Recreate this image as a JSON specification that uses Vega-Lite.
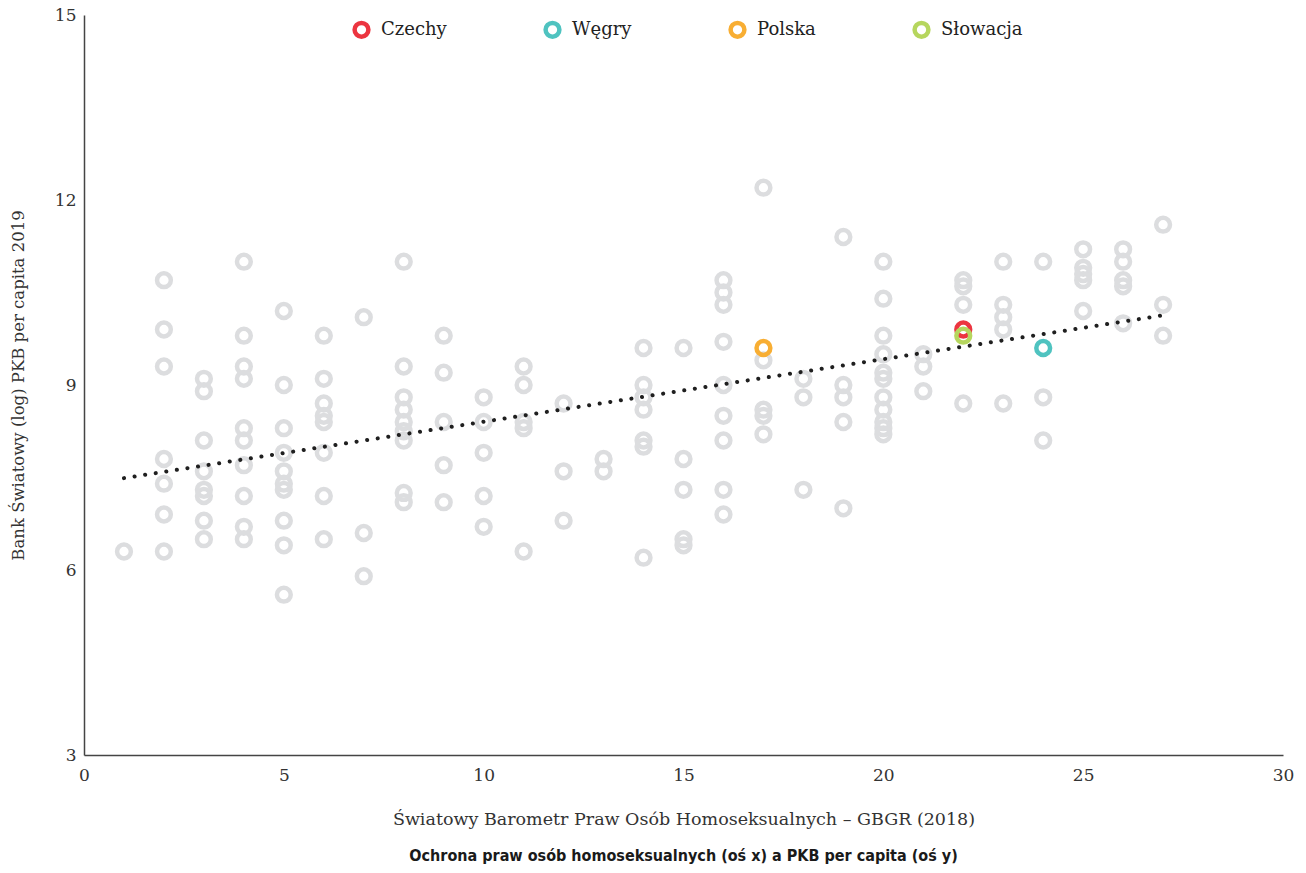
{
  "$schema": "https://vega.github.io/schema/vega-lite/v6.json",
  "autosize": {"type": "none"},
  "width": 1199,
  "height": 740,
  "padding": {"left": 84, "top": 15, "right": 23, "bottom": 118},
  "background": "white",
  "config": {
    "view": {"stroke": null},
    "font": "DejaVu Serif"
  },
  "title": {
    "text": "Ochrona praw osób homoseksualnych (oś x) a PKB per capita (oś y)",
    "orient": "bottom",
    "anchor": "middle",
    "font": "'DejaVu Sans Condensed', 'Liberation Sans Narrow', Roboto, sans-serif",
    "fontSize": 16,
    "fontWeight": "bold",
    "color": "#1a1a1a",
    "offset": 20
  },
  "datasets": {
    "pts": [
      {"x": 1, "y": 6.3, "k": "inne"},
      {"x": 2, "y": 10.7, "k": "inne"}, {"x": 2, "y": 9.9, "k": "inne"}, {"x": 2, "y": 9.3, "k": "inne"}, {"x": 2, "y": 7.8, "k": "inne"}, {"x": 2, "y": 7.4, "k": "inne"}, {"x": 2, "y": 6.9, "k": "inne"}, {"x": 2, "y": 6.3, "k": "inne"},
      {"x": 3, "y": 9.1, "k": "inne"}, {"x": 3, "y": 8.9, "k": "inne"}, {"x": 3, "y": 8.1, "k": "inne"}, {"x": 3, "y": 7.6, "k": "inne"}, {"x": 3, "y": 7.3, "k": "inne"}, {"x": 3, "y": 7.2, "k": "inne"}, {"x": 3, "y": 6.8, "k": "inne"}, {"x": 3, "y": 6.5, "k": "inne"},
      {"x": 4, "y": 11.0, "k": "inne"}, {"x": 4, "y": 9.8, "k": "inne"}, {"x": 4, "y": 9.3, "k": "inne"}, {"x": 4, "y": 9.1, "k": "inne"}, {"x": 4, "y": 8.3, "k": "inne"}, {"x": 4, "y": 8.1, "k": "inne"}, {"x": 4, "y": 7.7, "k": "inne"}, {"x": 4, "y": 7.2, "k": "inne"}, {"x": 4, "y": 6.7, "k": "inne"}, {"x": 4, "y": 6.5, "k": "inne"},
      {"x": 5, "y": 10.2, "k": "inne"}, {"x": 5, "y": 9.0, "k": "inne"}, {"x": 5, "y": 8.3, "k": "inne"}, {"x": 5, "y": 7.9, "k": "inne"}, {"x": 5, "y": 7.6, "k": "inne"}, {"x": 5, "y": 7.4, "k": "inne"}, {"x": 5, "y": 7.3, "k": "inne"}, {"x": 5, "y": 6.8, "k": "inne"}, {"x": 5, "y": 6.4, "k": "inne"}, {"x": 5, "y": 5.6, "k": "inne"},
      {"x": 6, "y": 9.8, "k": "inne"}, {"x": 6, "y": 9.1, "k": "inne"}, {"x": 6, "y": 8.7, "k": "inne"}, {"x": 6, "y": 8.5, "k": "inne"}, {"x": 6, "y": 8.4, "k": "inne"}, {"x": 6, "y": 7.9, "k": "inne"}, {"x": 6, "y": 7.2, "k": "inne"}, {"x": 6, "y": 6.5, "k": "inne"},
      {"x": 7, "y": 10.1, "k": "inne"}, {"x": 7, "y": 6.6, "k": "inne"}, {"x": 7, "y": 5.9, "k": "inne"},
      {"x": 8, "y": 11.0, "k": "inne"}, {"x": 8, "y": 9.3, "k": "inne"}, {"x": 8, "y": 8.8, "k": "inne"}, {"x": 8, "y": 8.6, "k": "inne"}, {"x": 8, "y": 8.4, "k": "inne"}, {"x": 8, "y": 8.25, "k": "inne"}, {"x": 8, "y": 8.1, "k": "inne"}, {"x": 8, "y": 7.25, "k": "inne"}, {"x": 8, "y": 7.1, "k": "inne"},
      {"x": 9, "y": 9.8, "k": "inne"}, {"x": 9, "y": 9.2, "k": "inne"}, {"x": 9, "y": 8.4, "k": "inne"}, {"x": 9, "y": 7.7, "k": "inne"}, {"x": 9, "y": 7.1, "k": "inne"},
      {"x": 10, "y": 8.8, "k": "inne"}, {"x": 10, "y": 8.4, "k": "inne"}, {"x": 10, "y": 7.9, "k": "inne"}, {"x": 10, "y": 7.2, "k": "inne"}, {"x": 10, "y": 6.7, "k": "inne"},
      {"x": 11, "y": 9.3, "k": "inne"}, {"x": 11, "y": 9.0, "k": "inne"}, {"x": 11, "y": 8.4, "k": "inne"}, {"x": 11, "y": 8.3, "k": "inne"}, {"x": 11, "y": 6.3, "k": "inne"},
      {"x": 12, "y": 8.7, "k": "inne"}, {"x": 12, "y": 7.6, "k": "inne"}, {"x": 12, "y": 6.8, "k": "inne"},
      {"x": 13, "y": 7.8, "k": "inne"}, {"x": 13, "y": 7.6, "k": "inne"},
      {"x": 14, "y": 9.6, "k": "inne"}, {"x": 14, "y": 9.0, "k": "inne"}, {"x": 14, "y": 8.8, "k": "inne"}, {"x": 14, "y": 8.6, "k": "inne"}, {"x": 14, "y": 8.1, "k": "inne"}, {"x": 14, "y": 8.0, "k": "inne"}, {"x": 14, "y": 6.2, "k": "inne"},
      {"x": 15, "y": 9.6, "k": "inne"}, {"x": 15, "y": 7.8, "k": "inne"}, {"x": 15, "y": 7.3, "k": "inne"}, {"x": 15, "y": 6.5, "k": "inne"}, {"x": 15, "y": 6.4, "k": "inne"},
      {"x": 16, "y": 10.7, "k": "inne"}, {"x": 16, "y": 10.5, "k": "inne"}, {"x": 16, "y": 10.3, "k": "inne"}, {"x": 16, "y": 9.7, "k": "inne"}, {"x": 16, "y": 9.0, "k": "inne"}, {"x": 16, "y": 8.5, "k": "inne"}, {"x": 16, "y": 8.1, "k": "inne"}, {"x": 16, "y": 7.3, "k": "inne"}, {"x": 16, "y": 6.9, "k": "inne"},
      {"x": 17, "y": 12.2, "k": "inne"}, {"x": 17, "y": 9.4, "k": "inne"}, {"x": 17, "y": 8.6, "k": "inne"}, {"x": 17, "y": 8.5, "k": "inne"}, {"x": 17, "y": 8.2, "k": "inne"},
      {"x": 18, "y": 9.1, "k": "inne"}, {"x": 18, "y": 8.8, "k": "inne"}, {"x": 18, "y": 7.3, "k": "inne"},
      {"x": 19, "y": 11.4, "k": "inne"}, {"x": 19, "y": 9.0, "k": "inne"}, {"x": 19, "y": 8.8, "k": "inne"}, {"x": 19, "y": 8.4, "k": "inne"}, {"x": 19, "y": 7.0, "k": "inne"},
      {"x": 20, "y": 11.0, "k": "inne"}, {"x": 20, "y": 10.4, "k": "inne"}, {"x": 20, "y": 9.8, "k": "inne"}, {"x": 20, "y": 9.5, "k": "inne"}, {"x": 20, "y": 9.2, "k": "inne"}, {"x": 20, "y": 9.1, "k": "inne"}, {"x": 20, "y": 8.8, "k": "inne"}, {"x": 20, "y": 8.6, "k": "inne"}, {"x": 20, "y": 8.4, "k": "inne"}, {"x": 20, "y": 8.3, "k": "inne"}, {"x": 20, "y": 8.2, "k": "inne"},
      {"x": 21, "y": 9.5, "k": "inne"}, {"x": 21, "y": 9.3, "k": "inne"}, {"x": 21, "y": 8.9, "k": "inne"},
      {"x": 22, "y": 10.7, "k": "inne"}, {"x": 22, "y": 10.6, "k": "inne"}, {"x": 22, "y": 10.3, "k": "inne"}, {"x": 22, "y": 8.7, "k": "inne"},
      {"x": 23, "y": 11.0, "k": "inne"}, {"x": 23, "y": 10.3, "k": "inne"}, {"x": 23, "y": 10.1, "k": "inne"}, {"x": 23, "y": 9.9, "k": "inne"}, {"x": 23, "y": 8.7, "k": "inne"},
      {"x": 24, "y": 11.0, "k": "inne"}, {"x": 24, "y": 8.8, "k": "inne"}, {"x": 24, "y": 8.1, "k": "inne"},
      {"x": 25, "y": 11.2, "k": "inne"}, {"x": 25, "y": 10.9, "k": "inne"}, {"x": 25, "y": 10.8, "k": "inne"}, {"x": 25, "y": 10.7, "k": "inne"}, {"x": 25, "y": 10.2, "k": "inne"},
      {"x": 26, "y": 11.2, "k": "inne"}, {"x": 26, "y": 11.0, "k": "inne"}, {"x": 26, "y": 10.7, "k": "inne"}, {"x": 26, "y": 10.6, "k": "inne"}, {"x": 26, "y": 10.0, "k": "inne"},
      {"x": 27, "y": 11.6, "k": "inne"}, {"x": 27, "y": 10.3, "k": "inne"}, {"x": 27, "y": 9.8, "k": "inne"},
      {"x": 17, "y": 9.6, "k": "Polska"},
      {"x": 24, "y": 9.6, "k": "Węgry"},
      {"x": 22, "y": 9.9, "k": "Czechy"},
      {"x": 22, "y": 9.8, "k": "Słowacja"}
    ],
    "trend": [
      {"x": 1, "y": 7.49},
      {"x": 27, "y": 10.13}
    ]
  },
  "layer": [
    {
      "data": {"name": "pts"},
      "mark": {"type": "point", "shape": "circle", "filled": false, "size": 190, "strokeWidth": 4.5, "opacity": 1},
      "encoding": {
        "x": {
          "field": "x", "type": "quantitative",
          "scale": {"domain": [0, 30], "nice": false},
          "axis": {
            "values": [0, 5, 10, 15, 20, 25, 30],
            "format": "d",
            "grid": false, "ticks": false, "labelFlush": false,
            "domainColor": "#444", "domainWidth": 1.5,
            "labelFont": "DejaVu Serif", "labelFontSize": 17, "labelColor": "#333", "labelPadding": 12,
            "title": "Światowy Barometr Praw Osób Homoseksualnych – GBGR (2018)",
            "titleFont": "DejaVu Serif", "titleFontSize": 17.5, "titleFontWeight": "normal", "titleColor": "#333", "titlePadding": 27
          }
        },
        "y": {
          "field": "y", "type": "quantitative",
          "scale": {"domain": [3, 15], "nice": false, "zero": false},
          "axis": {
            "values": [3, 6, 9, 12, 15],
            "format": "d",
            "grid": false, "ticks": false, "labelFlush": false,
            "domainColor": "#444", "domainWidth": 1.5,
            "labelFont": "DejaVu Serif", "labelFontSize": 17, "labelColor": "#333", "labelPadding": 8,
            "title": "Bank Światowy (log) PKB per capita 2019",
            "titleFont": "DejaVu Serif", "titleFontSize": 16.5, "titleFontWeight": "normal", "titleColor": "#333", "titlePadding": 28
          }
        },
        "color": {
          "field": "k", "type": "nominal",
          "scale": {
            "domain": ["inne", "Czechy", "Węgry", "Polska", "Słowacja"],
            "range": ["#dcdddf", "#ec3540", "#4fc3c0", "#f8ae33", "#b6d65e"]
          },
          "legend": {
            "values": ["Czechy", "Węgry", "Polska", "Słowacja"],
            "title": null,
            "orient": "none",
            "legendX": 268,
            "legendY": 5,
            "direction": "horizontal",
            "columns": 4,
            "columnPadding": 89,
            "padding": 0,
            "symbolType": "circle",
            "symbolSize": 190,
            "symbolStrokeWidth": 4.5,
            "symbolFillColor": "white",
            "labelFont": "DejaVu Serif",
            "labelFontSize": 18,
            "labelColor": "#222",
            "labelOffset": 10
          }
        }
      }
    },
    {
      "data": {"name": "trend"},
      "mark": {"type": "line", "color": "#1f1f1f", "strokeWidth": 4, "strokeCap": "round", "strokeDash": [0.1, 10.6]},
      "encoding": {
        "x": {"field": "x", "type": "quantitative"},
        "y": {"field": "y", "type": "quantitative"}
      }
    }
  ]
}
